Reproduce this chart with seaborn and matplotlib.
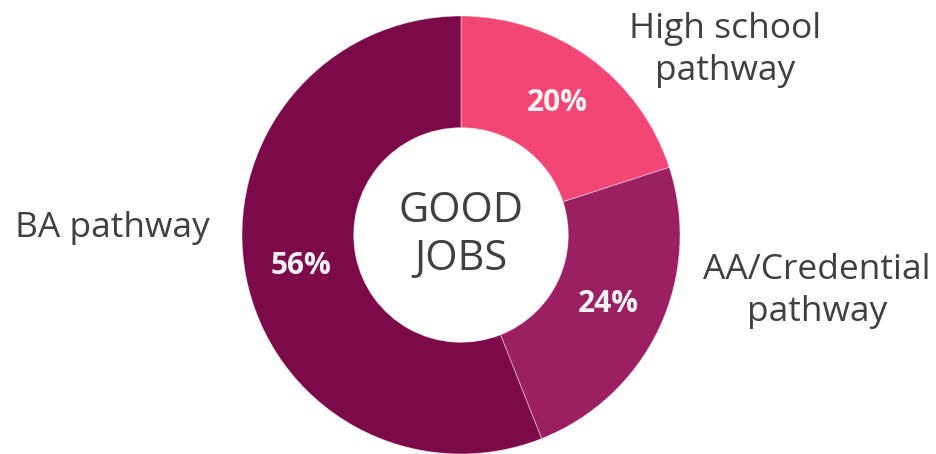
import matplotlib
matplotlib.use("Agg")
import matplotlib.pyplot as plt
import seaborn as sns

categories = ["High school\npathway", "AA/Credential\npathway", "BA pathway"]
shares = [20, 24, 56]
center_label = "GOOD\nJOBS"

sns.set_theme(style="white")
plt.rcParams['font.family'] = ['Open Sans', 'DejaVu Sans']
colors = sns.color_palette(["#F24775", "#9C1F63", "#7C0A4B"])

fig = plt.figure(figsize=(9.36, 4.54), dpi=100)
ax = fig.add_axes([0, 0, 1, 1])

cx, cy, R = 461, 219, 219
wedges, texts, autotexts = ax.pie(
    shares, colors=colors, startangle=90, counterclock=False,
    center=(cx, cy), radius=R, frame=True,
    wedgeprops=dict(width=R * 0.51, linewidth=0.6, edgecolor="#ffffff80"),
    autopct=lambda p: f"{p:.0f}%", pctdistance=0.745,
    textprops=dict(color="#F2F2F2", fontsize=21.5, fontweight="bold"))
ax.set_xlim(0, 936)
ax.set_ylim(0, 454)
ax.set_aspect('equal')
ax.axis('off')

ax.text(cx, cy, center_label, ha="center", va="center", fontsize=30,
        color="#404040", linespacing=1.2)

label_pos = [(725, 454 - 50, "center"), (817, 454 - 291, "center"), (15, 454 - 228, "left")]
for lab, (x, y, ha) in zip(categories, label_pos):
    ax.text(x, y, lab, ha=ha, va="center", fontsize=25.5, color="#404040",
            linespacing=1.28)

fig.savefig("out.png", dpi=100)
